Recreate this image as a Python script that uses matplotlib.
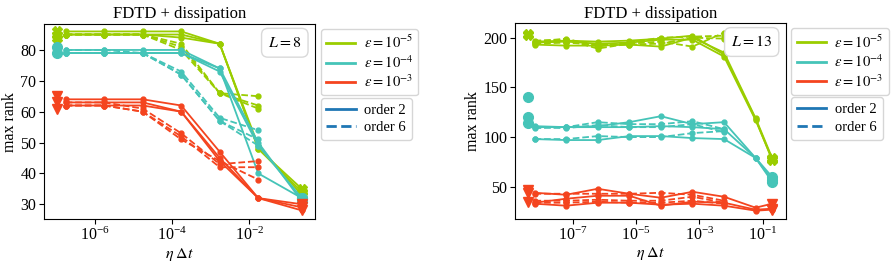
import numpy as np
import matplotlib
matplotlib.use("Agg")
import matplotlib.pyplot as plt
from matplotlib.lines import Line2D
from matplotlib.ticker import NullLocator, MultipleLocator

plt.rcParams['font.family'] = ['Liberation Serif', 'DejaVu Serif']
plt.rcParams['mathtext.fontset'] = 'stix'
plt.rcParams['font.size'] = 11.5

eps_labels = [r'$\varepsilon = 10^{-5}$', r'$\varepsilon = 10^{-4}$', r'$\varepsilon = 10^{-3}$']
eps_colors = ['#9acd00', '#45c4b8', '#f4441f']
eps_markers = ['X', 'o', 'v']

# ---- L = 8 ----
x_L8 = [1.7e-7, 1.7e-6, 1.7e-5, 1.7e-4, 1.7e-3, 1.7e-2, 0.23]
x_ref_L8 = 1e-7

green_solid_L8 = [[86, 86, 86, 86, 82, 48, 35],
                  [85, 85, 85, 85, 82, 48, 34],
                  [85, 85, 85, 84, 82, 49, 33]]
green_dashed_L8 = [[85, 85, 85, 82, 66, 65],
                   [85, 85, 85, 81, 66, 62],
                   [85, 85, 85, 80, 66, 61]]
green_ref_L8 = [84, 85, 86]

teal_solid_L8 = [[80, 80, 80, 80, 74, 40, 32],
                 [79, 79, 79, 79, 74, 50, 31],
                 [79, 79, 79, 79, 73, 49, 32]]
teal_dashed_L8 = [[80, 80, 79, 73, 58, 54],
                  [79, 79, 79, 72, 57, 51],
                  [79, 79, 79, 72, 57, 49]]
teal_ref_L8 = [79, 81]

red_solid_L8 = [[64, 64, 64, 62, 47, 32, 28],
                [63, 63, 63, 60, 45, 32, 29],
                [62, 62, 62, 60, 44, 32, 30]]
red_dashed_L8 = [[63, 63, 61, 53, 43, 44],
                 [62, 62, 60, 52, 42, 42],
                 [62, 62, 60, 51, 44, 38]]
red_ref_L8 = [61, 63, 65]

# ---- L = 13 ----
x_L13 = [6e-9, 6e-8, 6e-7, 6e-6, 6e-5, 6e-4, 6e-3, 6e-2, 0.2]
x_ref_L13 = 3.7e-9

green_solid_L13 = [[193, 192, 192, 193, 191, 200, 185, 119, 79],
                   [195, 196, 194, 195, 198, 198, 181, 117, 78],
                   [196, 197, 196, 197, 199, 202, 183, 118, 77]]
green_dashed_L13 = [[197, 198, 189, 194, 196, 191, 205],
                    [196, 199, 191, 195, 200, 201, 202],
                    [194, 195, 193, 193, 194, 200, 199]]
green_ref_L13 = [203, 204]

teal_solid_L13 = [[111, 110, 111, 115, 121, 113, 115, 79, 60],
                  [110, 110, 110, 110, 111, 110, 108, 79, 57],
                  [98, 97, 97, 101, 101, 99, 98, 79, 55]]
teal_dashed_L13 = [[109, 110, 115, 113, 113, 116, 108],
                   [110, 109, 112, 110, 110, 113, 105],
                   [98, 98, 101, 100, 100, 104, 106]]
teal_ref_L13 = [140, 120, 114]

red_solid_L13 = [[44, 42, 48, 43, 39, 45, 40, 29, 33],
                 [34, 38, 41, 41, 31, 35, 34, 27, 28],
                 [33, 31, 34, 34, 32, 33, 31, 26, 27]]
red_dashed_L13 = [[43, 43, 43, 43, 44, 42, 36],
                  [36, 36, 37, 36, 36, 40, 34],
                  [34, 34, 35, 34, 34, 36, 33]]
red_ref_L13 = [47, 44, 35]


def draw_panel(ax, xs, x_ref, groups, L, ylim, xlim, xticks, ystep):
    for (solid, dashed, ref), color, mk in zip(groups, eps_colors, eps_markers):
        for ys in dashed:
            ax.plot(xs[:len(ys)], ys, '--', color=color, lw=1.3, marker='o', ms=3.5)
        for ys in solid:
            ax.plot(xs[:len(ys)], ys, '-', color=color, lw=1.3, marker='o', ms=3.5)
            # big marker at the largest eta
            ax.plot([xs[len(ys) - 1]], [ys[-1]], mk, color=color, ms=7)
        # reference values (no dissipation) on the far left
        ax.plot([x_ref] * len(ref), ref, mk, color=color, ms=7, ls='none')

    ax.set_xscale('log')
    ax.set_xlim(*xlim)
    ax.set_ylim(*ylim)
    ax.set_xticks(xticks)
    ax.xaxis.set_minor_locator(NullLocator())
    ax.yaxis.set_major_locator(MultipleLocator(ystep))
    ax.tick_params(axis='both', pad=2)
    ax.set_xlabel(r'$\eta\;\Delta t$', labelpad=1)
    ax.set_ylabel('max rank', labelpad=2)
    ax.set_title('FDTD + dissipation', fontsize=12, pad=4)

    ax.text(0.95, 0.945, r'$L = %d$' % L, transform=ax.transAxes, ha='right', va='top',
            bbox=dict(boxstyle='round,pad=0.4', facecolor='white', edgecolor='0.85'))

    eps_handles = [Line2D([], [], color=c, lw=2) for c in eps_colors]
    leg1 = ax.legend(eps_handles, eps_labels, loc='upper left', bbox_to_anchor=(1.02, 0.975),
                     borderaxespad=0, fontsize=10.5, labelspacing=0.2, borderpad=0.35,
                     handletextpad=0.6)
    ax.add_artist(leg1)
    order_handles = [Line2D([], [], color='C0', lw=2, ls='-'),
                     Line2D([], [], color='C0', lw=2, ls='--')]
    ax.legend(order_handles, ['order 2', 'order 6'], loc='upper left',
              bbox_to_anchor=(1.02, 0.623), borderaxespad=0, fontsize=10.5,
              labelspacing=0.3, borderpad=0.4, handletextpad=0.6)


fig = plt.figure(figsize=(8.95, 2.64), dpi=100)
ax1 = fig.add_axes([0.0492, 0.169, 0.303, 0.74])
ax2 = fig.add_axes([0.5754, 0.170, 0.3028, 0.742])

groups_L8 = [(green_solid_L8, green_dashed_L8, green_ref_L8),
             (teal_solid_L8, teal_dashed_L8, teal_ref_L8),
             (red_solid_L8, red_dashed_L8, red_ref_L8)]
groups_L13 = [(green_solid_L13, green_dashed_L13, green_ref_L13),
              (teal_solid_L13, teal_dashed_L13, teal_ref_L13),
              (red_solid_L13, red_dashed_L13, red_ref_L13)]

draw_panel(ax1, x_L8, x_ref_L8, groups_L8, 8, (25.1, 88.4), (10**-7.33, 10**-0.29),
           [1e-6, 1e-4, 1e-2], 10)
draw_panel(ax2, x_L13, x_ref_L13, groups_L13, 13, (17.5, 214.5), (10**-8.84, 10**-0.26),
           [1e-7, 1e-5, 1e-3, 1e-1], 50)

fig.savefig('out.png', dpi=100)
